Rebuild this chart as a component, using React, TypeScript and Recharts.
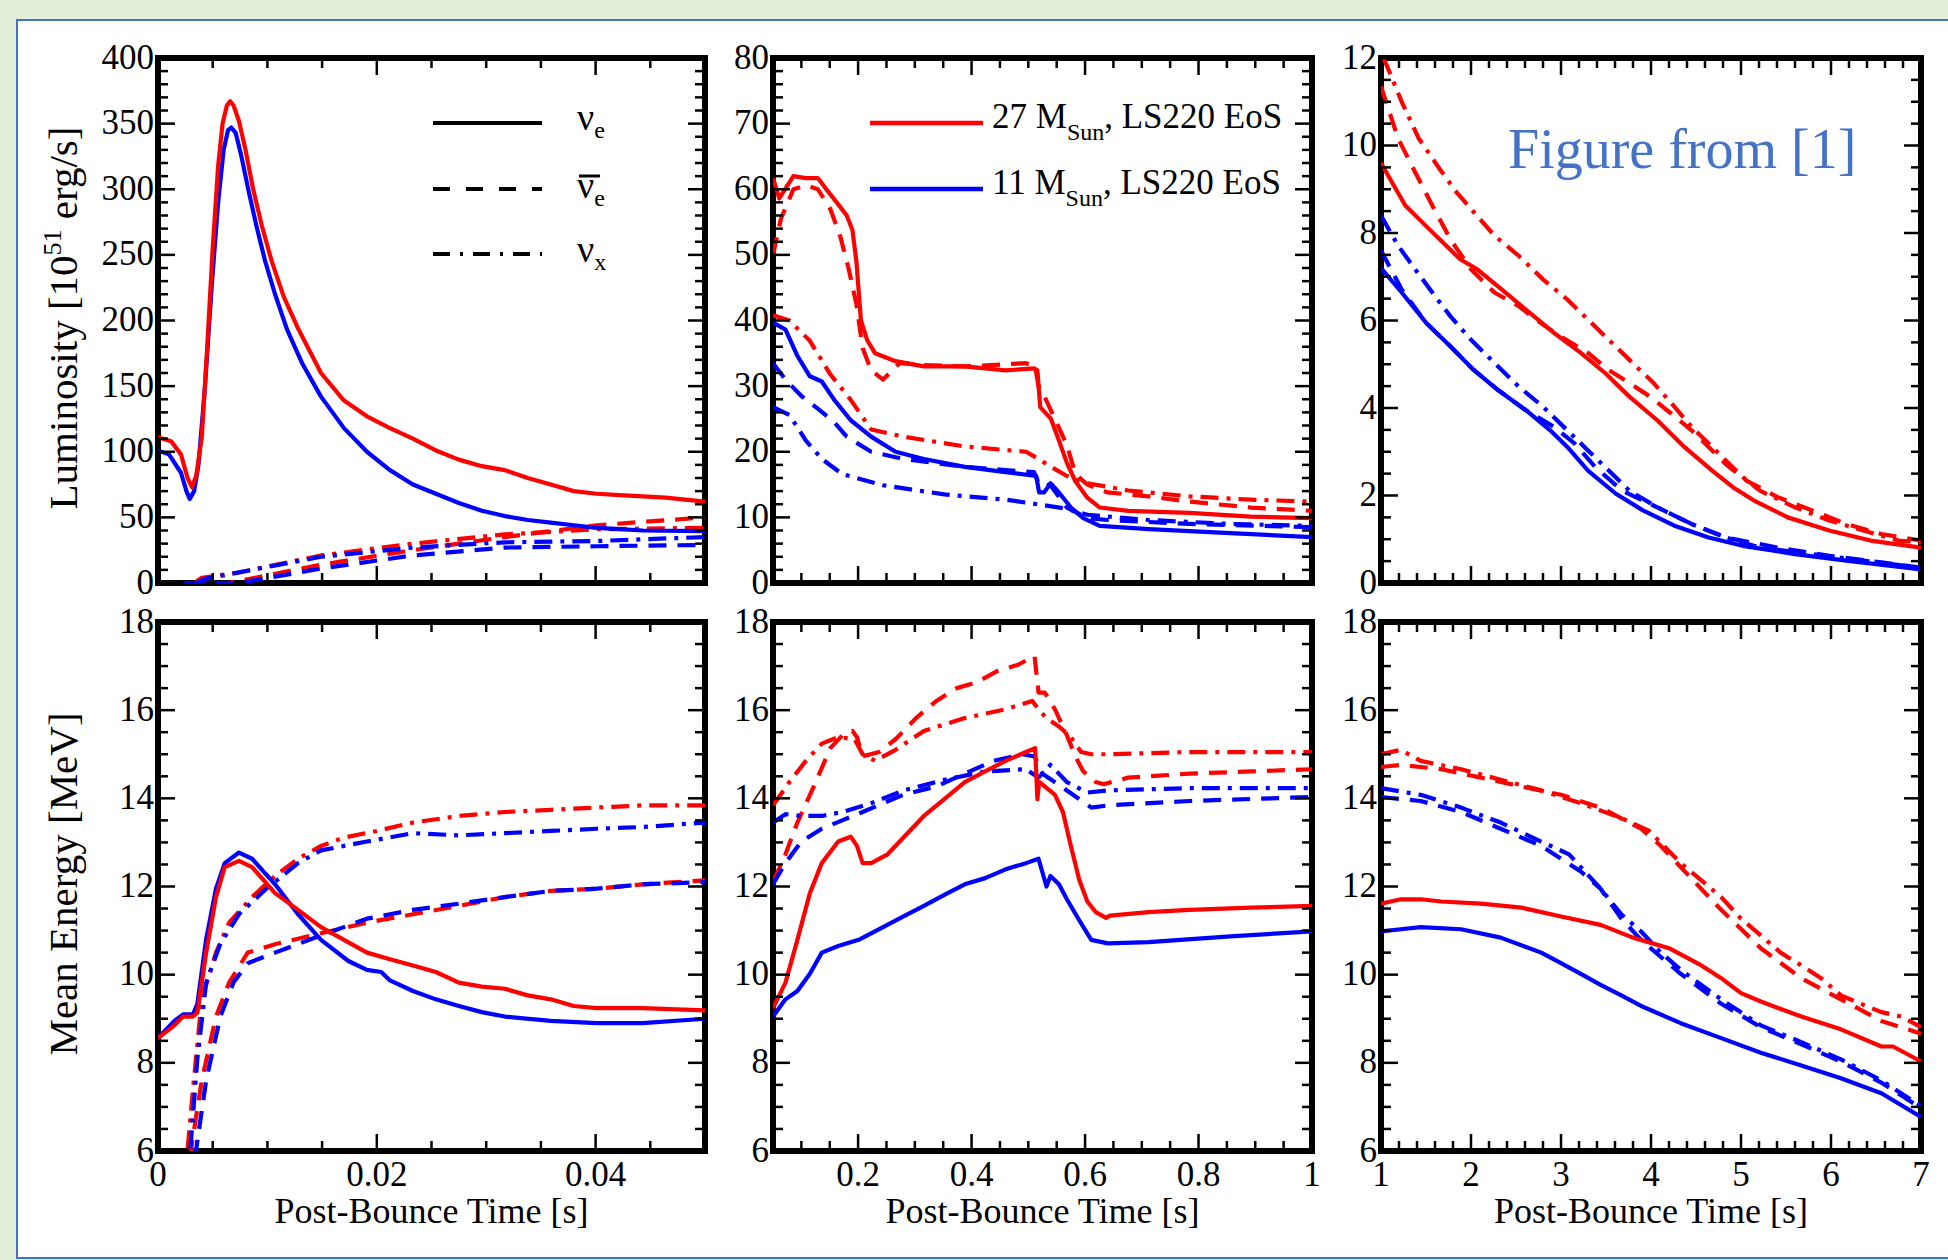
import React from "react";
import { LineChart, Line, XAxis, YAxis, ReferenceArea } from "recharts";

type Pt = [number, number];

// ---------- top left: luminosity, 0 - 0.05 s ----------
const tlRedSolid: Pt[] = [[0, 111], [0.0012, 108], [0.0021, 98], [0.0027, 80], [0.0031, 73], [0.0035, 82], [0.004, 111], [0.0045, 180], [0.005, 255], [0.0055, 318], [0.0059, 350], [0.0063, 364], [0.0066, 367], [0.0069, 364], [0.0074, 352], [0.008, 330], [0.0087, 300], [0.0095, 272], [0.0104, 245], [0.0115, 218], [0.0128, 194], [0.0149, 160], [0.017, 139], [0.0191, 127], [0.0212, 118], [0.0233, 110], [0.0254, 101], [0.0275, 94], [0.0296, 89], [0.0317, 86], [0.0338, 80], [0.0359, 75], [0.038, 70], [0.0401, 68], [0.0422, 67], [0.0443, 66], [0.0464, 65], [0.05, 62]];
const tlRedDash: Pt[] = [[0, 0], [0.0065, 0], [0.0149, 14], [0.0233, 25], [0.0317, 35], [0.0401, 44], [0.05, 50]];
const tlRedDashDot: Pt[] = [[0, 0], [0.0033, 0], [0.004, 4], [0.0074, 8], [0.0149, 21], [0.0233, 30], [0.0317, 37], [0.0401, 41], [0.05, 42]];
const tlBlueSolid: Pt[] = [[0, 101], [0.001, 98], [0.0021, 84], [0.0026, 70], [0.0029, 64], [0.0033, 70], [0.0037, 90], [0.0043, 150], [0.0049, 225], [0.0055, 290], [0.006, 330], [0.0064, 345], [0.0067, 347], [0.0071, 343], [0.0076, 326], [0.0083, 298], [0.009, 272], [0.0098, 245], [0.0107, 220], [0.0118, 193], [0.0132, 167], [0.0149, 142], [0.017, 118], [0.0191, 100], [0.0212, 86], [0.0233, 75], [0.0254, 68], [0.0275, 61], [0.0296, 55], [0.0317, 51], [0.0338, 48], [0.0359, 46], [0.038, 44], [0.0401, 42], [0.0422, 41], [0.0443, 40], [0.05, 39.5]];
const tlBlueDash: Pt[] = [[0, 0], [0.0074, 0], [0.0149, 11], [0.0233, 21], [0.0317, 27], [0.0401, 28], [0.05, 29]];
const tlBlueDashDot: Pt[] = [[0, 0], [0.0035, 0], [0.0042, 3], [0.0149, 20], [0.0233, 27], [0.0317, 31], [0.0401, 32], [0.05, 35]];

// ---------- top middle: luminosity, 0.05 - 1 s ----------
const tmRedSolid: Pt[] = [[0.05, 61.7], [0.061, 58.6], [0.086, 62], [0.108, 61.7], [0.129, 61.7], [0.144, 60], [0.165, 57.7], [0.18, 56], [0.19, 53.8], [0.197, 49], [0.205, 40], [0.216, 37], [0.23, 35], [0.266, 33.8], [0.316, 33], [0.388, 33], [0.46, 32.4], [0.51, 32.7], [0.516, 32.4], [0.521, 26.8], [0.54, 25], [0.554, 21.7], [0.568, 18.3], [0.583, 15.5], [0.604, 13], [0.626, 11.5], [0.676, 11], [0.784, 10.7], [0.892, 10.1], [1, 9.9]];
const tmRedDash: Pt[] = [[0.05, 50], [0.064, 55.5], [0.086, 60], [0.108, 60.6], [0.129, 60], [0.151, 57], [0.169, 52.7], [0.183, 48], [0.197, 42.5], [0.208, 35.8], [0.223, 32.4], [0.244, 31], [0.273, 33.5], [0.316, 33.2], [0.388, 33], [0.496, 33.5], [0.512, 33], [0.518, 30], [0.528, 28.5], [0.547, 25], [0.568, 21], [0.583, 16.6], [0.604, 15], [0.64, 13.8], [0.712, 13.2], [0.784, 12.4], [0.892, 11.5], [1, 11]];
const tmRedDashDot: Pt[] = [[0.05, 40.8], [0.079, 40], [0.115, 36.9], [0.151, 31.8], [0.187, 27.9], [0.223, 23.4], [0.28, 22.3], [0.388, 20.8], [0.496, 20], [0.518, 18.9], [0.54, 17.7], [0.568, 16.3], [0.604, 15.2], [0.676, 14.1], [0.784, 13.2], [0.892, 12.7], [1, 12.4]];
const tmBlueSolid: Pt[] = [[0.05, 39.7], [0.072, 38.6], [0.093, 34.6], [0.115, 31.5], [0.136, 30.7], [0.158, 27.9], [0.187, 24.8], [0.223, 22.3], [0.266, 20], [0.316, 18.9], [0.388, 17.7], [0.46, 16.9], [0.514, 16.3], [0.519, 13.8], [0.528, 13.8], [0.539, 15.2], [0.554, 13.8], [0.575, 11.5], [0.597, 9.9], [0.626, 8.7], [0.712, 8.2], [0.856, 7.6], [1, 7]];
const tmBlueDash: Pt[] = [[0.05, 33.5], [0.072, 31], [0.1, 28.5], [0.13, 26.5], [0.158, 24.5], [0.18, 22.3], [0.223, 20], [0.28, 18.9], [0.388, 17.7], [0.46, 17.2], [0.51, 16.9], [0.52, 14.9], [0.539, 14.9], [0.568, 11.5], [0.604, 9.9], [0.64, 9.6], [0.784, 9], [1, 8.5]];
const tmBlueDashDot: Pt[] = [[0.05, 26.8], [0.079, 25.6], [0.108, 21.7], [0.136, 18.9], [0.172, 16.6], [0.244, 14.9], [0.352, 13.5], [0.46, 12.7], [0.532, 11.8], [0.568, 11.3], [0.604, 10.4], [0.712, 9.6], [0.856, 9], [1, 8.7]];

// ---------- top right: luminosity, 1 - 7 s ----------
const trRedSolid: Pt[] = [[1, 9.6], [1.27, 8.63], [1.57, 8.02], [1.88, 7.4], [2.07, 7.17], [2.34, 6.71], [2.61, 6.25], [2.92, 5.72], [3.22, 5.26], [3.49, 4.8], [3.76, 4.26], [4.07, 3.72], [4.37, 3.11], [4.68, 2.57], [4.91, 2.19], [5.14, 1.89], [5.52, 1.5], [5.98, 1.2], [6.44, 0.97], [7, 0.81]];
const trRedDash: Pt[] = [[1, 11.35], [1.19, 10.16], [1.38, 9.39], [1.57, 8.63], [1.77, 7.86], [2.0, 7.17], [2.26, 6.64], [2.53, 6.33], [2.72, 6.02], [2.99, 5.64], [3.3, 5.26], [3.53, 4.87], [3.76, 4.57], [3.99, 4.26], [4.22, 3.88], [4.45, 3.49], [4.64, 3.11], [4.83, 2.72], [5.06, 2.34], [5.41, 1.96], [5.79, 1.66], [6.17, 1.35], [6.56, 1.12], [7, 0.97]];
const trRedDashDot: Pt[] = [[1.02, 12], [1.06, 11.85], [1.23, 11], [1.42, 10.16], [1.65, 9.47], [1.84, 8.93], [2.03, 8.48], [2.26, 7.94], [2.53, 7.48], [2.8, 6.94], [3.07, 6.48], [3.3, 6.02], [3.53, 5.56], [3.76, 5.1], [4.03, 4.57], [4.26, 4.03], [4.45, 3.57], [4.64, 3.19], [4.83, 2.8], [5.02, 2.42], [5.21, 2.11], [5.6, 1.73], [5.98, 1.43], [6.36, 1.2], [6.75, 0.97], [7, 0.93]];
const trBlueSolid: Pt[] = [[1, 7.2], [1.23, 6.64], [1.5, 5.95], [1.77, 5.41], [2.03, 4.87], [2.3, 4.41], [2.61, 3.95], [2.88, 3.49], [3.07, 3.11], [3.3, 2.57], [3.61, 2.04], [3.91, 1.66], [4.26, 1.31], [4.64, 1.04], [5.02, 0.85], [5.6, 0.66], [6.17, 0.51], [7, 0.31]];
const trBlueDash: Pt[] = [[1, 7.6], [1.23, 6.71], [1.5, 5.95], [1.77, 5.41], [2.03, 4.87], [2.3, 4.41], [2.61, 3.95], [2.92, 3.57], [3.15, 3.19], [3.38, 2.65], [3.68, 2.11], [4.07, 1.73], [4.45, 1.35], [4.83, 1.04], [5.41, 0.81], [5.98, 0.62], [6.56, 0.47], [7, 0.35]];
const trBlueDashDot: Pt[] = [[1, 8.4], [1.19, 7.71], [1.38, 7.17], [1.57, 6.64], [1.77, 6.1], [2.0, 5.56], [2.26, 5.03], [2.53, 4.49], [2.8, 4.03], [3.07, 3.49], [3.3, 3.03], [3.53, 2.57], [3.76, 2.11], [4.07, 1.73], [4.45, 1.35], [4.83, 1.04], [5.21, 0.81], [5.79, 0.66], [6.36, 0.51], [7, 0.35]];

// ---------- bottom left: mean energy, 0 - 0.05 s ----------
const blRedSolid: Pt[] = [[0, 8.56], [0.0015, 8.85], [0.0023, 9.05], [0.0032, 9.05], [0.0036, 9.14], [0.0044, 10.5], [0.0053, 11.76], [0.0061, 12.44], [0.0074, 12.58], [0.0086, 12.44], [0.0107, 11.85], [0.0128, 11.47], [0.0149, 11.08], [0.017, 10.79], [0.0191, 10.5], [0.0212, 10.35], [0.0233, 10.21], [0.0254, 10.06], [0.0275, 9.82], [0.0296, 9.73], [0.0317, 9.68], [0.0338, 9.53], [0.0359, 9.44], [0.038, 9.29], [0.0401, 9.24], [0.0443, 9.24], [0.05, 9.19]];
const blRedDash: Pt[] = [[0.0025, 5.2], [0.004, 7.6], [0.0053, 9.05], [0.0065, 9.82], [0.0082, 10.5], [0.0107, 10.69], [0.0149, 10.94], [0.0191, 11.18], [0.0233, 11.37], [0.0275, 11.56], [0.0317, 11.76], [0.0359, 11.9], [0.0401, 11.95], [0.0443, 12.05], [0.05, 12.14]];
const blRedDashDot: Pt[] = [[0.0024, 5.2], [0.0032, 7.4], [0.004, 9.44], [0.0053, 10.5], [0.0065, 11.18], [0.0086, 11.76], [0.0107, 12.24], [0.0128, 12.63], [0.0149, 12.92], [0.017, 13.11], [0.02, 13.26], [0.0233, 13.45], [0.0275, 13.6], [0.0317, 13.69], [0.0359, 13.74], [0.0401, 13.79], [0.0443, 13.84], [0.05, 13.84]];
const blBlueSolid: Pt[] = [[0, 8.56], [0.0015, 8.95], [0.0023, 9.1], [0.0032, 9.1], [0.0036, 9.34], [0.0044, 10.8], [0.0053, 11.95], [0.0061, 12.53], [0.0074, 12.77], [0.0086, 12.63], [0.0107, 12.05], [0.0128, 11.37], [0.0149, 10.79], [0.0174, 10.31], [0.0191, 10.11], [0.0204, 10.06], [0.0212, 9.87], [0.0233, 9.63], [0.0254, 9.44], [0.0275, 9.29], [0.0296, 9.15], [0.0317, 9.05], [0.0359, 8.95], [0.0401, 8.9], [0.0443, 8.9], [0.05, 9.0]];
const blBlueDash: Pt[] = [[0.003, 5.2], [0.0044, 7.6], [0.0057, 9.05], [0.0069, 9.82], [0.0082, 10.26], [0.0107, 10.5], [0.0149, 10.89], [0.0191, 11.27], [0.0233, 11.47], [0.0275, 11.61], [0.0317, 11.76], [0.0359, 11.9], [0.0401, 11.95], [0.0443, 12.05], [0.05, 12.1]];
const blBlueDashDot: Pt[] = [[0.0027, 5.2], [0.0036, 8.1], [0.0044, 9.82], [0.0057, 10.7], [0.0074, 11.37], [0.0099, 11.95], [0.0128, 12.53], [0.0149, 12.82], [0.0191, 13.02], [0.0233, 13.21], [0.0275, 13.16], [0.0317, 13.21], [0.0359, 13.26], [0.0401, 13.31], [0.0443, 13.35], [0.05, 13.45]];

// ---------- bottom middle: mean energy, 0.05 - 1 s ----------
const bmRedSolid: Pt[] = [[0.05, 9.24], [0.072, 9.82], [0.093, 10.79], [0.115, 11.85], [0.136, 12.53], [0.165, 13.02], [0.187, 13.13], [0.198, 12.92], [0.208, 12.53], [0.223, 12.53], [0.252, 12.73], [0.28, 13.11], [0.316, 13.6], [0.352, 13.98], [0.388, 14.37], [0.424, 14.61], [0.46, 14.85], [0.496, 15.05], [0.512, 15.14], [0.516, 13.98], [0.519, 14.37], [0.529, 14.27], [0.547, 14.08], [0.561, 13.69], [0.575, 12.92], [0.59, 12.14], [0.604, 11.66], [0.619, 11.42], [0.637, 11.29], [0.644, 11.34], [0.712, 11.42], [0.784, 11.47], [0.892, 11.52], [1, 11.56]];
const bmRedDash: Pt[] = [[0.05, 12.1], [0.072, 12.73], [0.093, 13.45], [0.122, 14.27], [0.151, 15.14], [0.176, 15.48], [0.19, 15.53], [0.198, 15.39], [0.208, 14.95], [0.237, 15.05], [0.266, 15.34], [0.302, 15.82], [0.338, 16.21], [0.374, 16.5], [0.41, 16.64], [0.446, 16.89], [0.482, 17.03], [0.511, 17.23], [0.518, 16.4], [0.529, 16.4], [0.547, 16.02], [0.568, 15.43], [0.583, 14.95], [0.597, 14.61], [0.619, 14.37], [0.633, 14.32], [0.676, 14.47], [0.784, 14.56], [0.892, 14.61], [1, 14.66]];
const bmRedDashDot: Pt[] = [[0.05, 13.84], [0.079, 14.37], [0.108, 14.85], [0.136, 15.24], [0.165, 15.39], [0.194, 15.34], [0.208, 15.0], [0.23, 14.85], [0.266, 15.1], [0.316, 15.53], [0.388, 15.82], [0.46, 16.02], [0.507, 16.21], [0.518, 16.02], [0.532, 15.82], [0.554, 15.63], [0.575, 15.39], [0.593, 15.05], [0.611, 15.0], [0.64, 15.0], [0.784, 15.05], [1, 15.05]];
const bmBlueSolid: Pt[] = [[0.05, 9.05], [0.072, 9.44], [0.093, 9.63], [0.115, 10.02], [0.136, 10.5], [0.165, 10.65], [0.201, 10.79], [0.244, 11.08], [0.28, 11.32], [0.316, 11.56], [0.352, 11.81], [0.388, 12.05], [0.424, 12.19], [0.46, 12.39], [0.496, 12.53], [0.518, 12.63], [0.532, 12.0], [0.539, 12.24], [0.554, 12.05], [0.568, 11.71], [0.59, 11.23], [0.611, 10.79], [0.64, 10.71], [0.712, 10.74], [0.856, 10.87], [1, 10.98]];
const bmBlueDash: Pt[] = [[0.05, 12.05], [0.072, 12.53], [0.1, 13.02], [0.136, 13.31], [0.172, 13.5], [0.208, 13.69], [0.244, 13.89], [0.28, 14.08], [0.338, 14.27], [0.388, 14.56], [0.439, 14.85], [0.489, 15.0], [0.511, 14.95], [0.525, 14.56], [0.568, 14.18], [0.611, 13.79], [0.64, 13.84], [0.784, 13.94], [1, 14.03]];
const bmBlueDashDot: Pt[] = [[0.05, 13.45], [0.072, 13.64], [0.1, 13.6], [0.136, 13.6], [0.172, 13.69], [0.223, 13.89], [0.28, 14.18], [0.352, 14.42], [0.424, 14.61], [0.496, 14.66], [0.518, 14.47], [0.539, 14.76], [0.568, 14.37], [0.604, 14.13], [0.64, 14.18], [0.784, 14.23], [1, 14.23]];

// ---------- bottom right: mean energy, 1 - 7 s ----------
const brRedSolid: Pt[] = [[1, 11.61], [1.22, 11.71], [1.44, 11.71], [1.67, 11.66], [2.11, 11.61], [2.56, 11.52], [3.0, 11.32], [3.44, 11.13], [3.8, 10.84], [4.2, 10.6], [4.56, 10.21], [4.78, 9.92], [5.0, 9.58], [5.22, 9.39], [5.67, 9.05], [6.11, 8.76], [6.56, 8.37], [6.69, 8.37], [7, 8.03]];
const brRedDash: Pt[] = [[1, 14.71], [1.22, 14.76], [1.67, 14.66], [2.11, 14.47], [2.56, 14.27], [3.0, 14.08], [3.44, 13.79], [3.89, 13.31], [4.11, 12.92], [4.33, 12.44], [4.78, 11.47], [5.22, 10.6], [5.67, 9.92], [6.11, 9.44], [6.56, 8.95], [7, 8.66]];
const brRedDashDot: Pt[] = [[1, 15.0], [1.22, 15.1], [1.44, 14.85], [1.89, 14.66], [2.33, 14.42], [2.78, 14.18], [3.22, 13.89], [3.67, 13.55], [3.98, 13.26], [4.33, 12.53], [4.56, 12.14], [4.78, 11.76], [5.0, 11.27], [5.22, 10.89], [5.44, 10.5], [5.67, 10.21], [5.89, 9.92], [6.11, 9.53], [6.33, 9.34], [6.56, 9.15], [6.78, 9.05], [7, 8.81]];
const brBlueSolid: Pt[] = [[1, 10.98], [1.22, 11.03], [1.44, 11.08], [1.89, 11.03], [2.33, 10.84], [2.78, 10.5], [3.0, 10.26], [3.22, 10.02], [3.44, 9.77], [3.67, 9.53], [3.89, 9.29], [4.33, 8.9], [4.78, 8.56], [5.22, 8.23], [5.67, 7.94], [6.11, 7.65], [6.56, 7.31], [7, 6.77]];
const brBlueDash: Pt[] = [[1, 14.03], [1.44, 13.94], [1.89, 13.69], [2.33, 13.31], [2.78, 12.92], [3.22, 12.34], [3.44, 11.95], [3.67, 11.27], [3.89, 10.79], [4.11, 10.4], [4.33, 10.02], [4.78, 9.34], [5.22, 8.81], [5.67, 8.42], [6.11, 8.03], [6.56, 7.55], [7, 6.97]];
const brBlueDashDot: Pt[] = [[1, 14.23], [1.44, 14.08], [1.89, 13.79], [2.33, 13.45], [2.78, 13.02], [3.09, 12.73], [3.44, 11.95], [3.67, 11.37], [3.89, 10.98], [4.11, 10.5], [4.33, 10.11], [4.78, 9.44], [5.22, 8.85], [5.67, 8.47], [6.11, 8.08], [6.56, 7.6], [7, 7.02]];

const RED = "#ff0000";
const BLUE = "#0000ff";
const FONT = '"Liberation Serif", "Times New Roman", serif';
const DASH = "18 11";
const DASHDOT = "18 8 4 8";

// chart margins around each plot box (axes take 1px each, Recharts skips 0-size axes)
const ML = 80, MR = 20, MT = 20, MB = 50;

type Series = { data: Pt[]; color: string; dash?: string };

function makeTicks(from: number, to: number, step: number) {
  const out: number[] = [];
  const n = Math.round((to - from) / step);
  for (let i = 0; i <= n; i++) out.push(+(from + i * step).toFixed(6));
  return out;
}

const isMultiple = (v: number, step: number) => Math.abs(v / step - Math.round(v / step)) < 1e-6;

type PanelProps = {
  left: number; top: number; width: number; height: number;
  xDomain: [number, number]; yDomain: [number, number];
  xMajor: number; xMinor: number; yMajor: number; yMinor: number;
  xLabels: boolean;
  series: Series[];
};

function Panel(p: PanelProps) {
  const xTicks = makeTicks(p.xDomain[0], p.xDomain[1], p.xMinor);
  const yTicks = makeTicks(p.yDomain[0], p.yDomain[1], p.yMinor);

  // bottom tick also draws the mirrored tick on the top edge
  const BottomTick = (props: any) => {
    const { x, y, payload } = props;
    const major = isMultiple(payload.value, p.xMajor);
    const len = major ? 17 : 10;
    const topY = y - p.height;
    return (
      <g>
        <line x1={x} x2={x} y1={y} y2={y - len} stroke="#000" strokeWidth={2.5} />
        <line x1={x} x2={x} y1={topY} y2={topY + len} stroke="#000" strokeWidth={2.5} />
        {major && p.xLabels && (
          <text x={x} y={y + 35} textAnchor="middle" fontFamily={FONT} fontSize={35} fill="#000">
            {String(payload.value)}
          </text>
        )}
      </g>
    );
  };

  // left tick also draws the mirrored tick on the right edge
  const LeftTick = (props: any) => {
    const { x, y, payload } = props;
    const major = isMultiple(payload.value, p.yMajor);
    const len = major ? 17 : 10;
    const rightX = x + p.width;
    return (
      <g>
        <line x1={x} x2={x + len} y1={y} y2={y} stroke="#000" strokeWidth={2.5} />
        <line x1={rightX} x2={rightX - len} y1={y} y2={y} stroke="#000" strokeWidth={2.5} />
        {major && (
          <text x={x - 4} y={y} dy="0.3em" textAnchor="end" fontFamily={FONT} fontSize={35} fill="#000">
            {String(payload.value)}
          </text>
        )}
      </g>
    );
  };

  return (
    <div style={{ position: "absolute", left: p.left - ML - 1, top: p.top - MT }}>
      <LineChart
        width={p.width + ML + MR + 1}
        height={p.height + MT + MB + 1}
        margin={{ top: MT, right: MR, bottom: MB, left: ML }}
      >
        <XAxis
          dataKey="t"
          type="number"
          domain={p.xDomain}
          ticks={xTicks}
          interval={0}
          height={1}
          tickSize={0}
          tickMargin={0}
          axisLine={false}
          tickLine={false}
          allowDataOverflow
          tick={BottomTick}
        />
        <YAxis
          type="number"
          domain={p.yDomain}
          ticks={yTicks}
          interval={0}
          width={1}
          tickSize={0}
          tickMargin={0}
          axisLine={false}
          tickLine={false}
          allowDataOverflow
          tick={LeftTick}
        />
        {p.series.map((s, i) => (
          <Line
            key={i}
            data={s.data.map(([t, v]) => ({ t, v }))}
            dataKey="v"
            type="linear"
            stroke={s.color}
            strokeWidth={4.2}
            strokeDasharray={s.dash}
            strokeLinejoin="round"
            dot={false}
            activeDot={false}
            isAnimationActive={false}
          />
        ))}
        <ReferenceArea
          x1={p.xDomain[0]}
          x2={p.xDomain[1]}
          y1={p.yDomain[0]}
          y2={p.yDomain[1]}
          fill="none"
          stroke="#000"
          strokeWidth={6}
          ifOverflow="visible"
        />
      </LineChart>
    </div>
  );
}

const six = (rs: Pt[], rd: Pt[], rdd: Pt[], bs: Pt[], bd: Pt[], bdd: Pt[]): Series[] => [
  { data: rdd, color: RED, dash: DASHDOT },
  { data: rd, color: RED, dash: DASH },
  { data: bdd, color: BLUE, dash: DASHDOT },
  { data: bd, color: BLUE, dash: DASH },
  { data: bs, color: BLUE },
  { data: rs, color: RED },
];

export default function App() {
  const topY = 58, topH = 525, botY = 622, botH = 529;
  const cols = [
    { left: 158, width: 547 },
    { left: 773, width: 539 },
    { left: 1381, width: 540 },
  ];
  const textStyle = { fontFamily: FONT, fill: "#000" };

  return (
    <div style={{ position: "absolute", left: 0, top: 0, width: 1948, height: 1260, background: "#e2efda", overflow: "hidden" }}>
      <div style={{ position: "absolute", left: 16, top: 19, width: 1960, height: 1240, background: "#fff", border: "2px solid #4472c4", boxSizing: "border-box" }} />

      <Panel left={cols[0].left} top={topY} width={cols[0].width} height={topH}
        xDomain={[0, 0.05]} yDomain={[0, 400]} xMajor={0.02} xMinor={0.005} yMajor={50} yMinor={10} xLabels={false}
        series={six(tlRedSolid, tlRedDash, tlRedDashDot, tlBlueSolid, tlBlueDash, tlBlueDashDot)} />
      <Panel left={cols[1].left} top={topY} width={cols[1].width} height={topH}
        xDomain={[0.05, 1]} yDomain={[0, 80]} xMajor={0.2} xMinor={0.05} yMajor={10} yMinor={2} xLabels={false}
        series={six(tmRedSolid, tmRedDash, tmRedDashDot, tmBlueSolid, tmBlueDash, tmBlueDashDot)} />
      <Panel left={cols[2].left} top={topY} width={cols[2].width} height={topH}
        xDomain={[1, 7]} yDomain={[0, 12]} xMajor={1} xMinor={0.2} yMajor={2} yMinor={0.5} xLabels={false}
        series={six(trRedSolid, trRedDash, trRedDashDot, trBlueSolid, trBlueDash, trBlueDashDot)} />

      <Panel left={cols[0].left} top={botY} width={cols[0].width} height={botH}
        xDomain={[0, 0.05]} yDomain={[6, 18]} xMajor={0.02} xMinor={0.005} yMajor={2} yMinor={0.5} xLabels={true}
        series={six(blRedSolid, blRedDash, blRedDashDot, blBlueSolid, blBlueDash, blBlueDashDot)} />
      <Panel left={cols[1].left} top={botY} width={cols[1].width} height={botH}
        xDomain={[0.05, 1]} yDomain={[6, 18]} xMajor={0.2} xMinor={0.05} yMajor={2} yMinor={0.5} xLabels={true}
        series={six(bmRedSolid, bmRedDash, bmRedDashDot, bmBlueSolid, bmBlueDash, bmBlueDashDot)} />
      <Panel left={cols[2].left} top={botY} width={cols[2].width} height={botH}
        xDomain={[1, 7]} yDomain={[6, 18]} xMajor={1} xMinor={0.2} yMajor={2} yMinor={0.5} xLabels={true}
        series={six(brRedSolid, brRedDash, brRedDashDot, brBlueSolid, brBlueDash, brBlueDashDot)} />

      <svg width={1948} height={1260} style={{ position: "absolute", left: 0, top: 0, pointerEvents: "none" }}>
        {/* axis titles */}
        <text transform="translate(77, 318) rotate(-90)" textAnchor="middle" fontSize={41} {...textStyle}>
          Luminosity [10<tspan fontSize={26} dy={-16}>51</tspan><tspan dy={16}> erg/s]</tspan>
        </text>
        <text transform="translate(77, 884) rotate(-90)" textAnchor="middle" fontSize={41} {...textStyle}>
          Mean Energy [MeV]
        </text>
        {cols.map((c, i) => (
          <text key={i} x={c.left + c.width / 2} y={1223} textAnchor="middle" fontSize={36} {...textStyle}>
            Post-Bounce Time [s]
          </text>
        ))}

        {/* flavour legend */}
        <line x1={433} x2={542} y1={123} y2={123} stroke="#000" strokeWidth={4} />
        <line x1={433} x2={542} y1={189} y2={189} stroke="#000" strokeWidth={4} strokeDasharray="17 16" />
        <line x1={433} x2={542} y1={254} y2={254} stroke="#000" strokeWidth={4} strokeDasharray="17 10 3 10" />
        <text x={577} y={130} fontSize={38} {...textStyle}>ν<tspan fontSize={24} dy={8}>e</tspan></text>
        <line x1={579} x2={600} y1={176} y2={176} stroke="#000" strokeWidth={3} />
        <text x={577} y={198} fontSize={38} {...textStyle}>ν<tspan fontSize={24} dy={8}>e</tspan></text>
        <text x={577} y={262} fontSize={38} {...textStyle}>ν<tspan fontSize={24} dy={8}>x</tspan></text>

        {/* progenitor legend */}
        <line x1={870} x2={983} y1={123} y2={123} stroke={RED} strokeWidth={4.5} />
        <line x1={870} x2={983} y1={189} y2={189} stroke={BLUE} strokeWidth={4.5} />
        <text x={992} y={128} fontSize={35} {...textStyle}>
          27 M<tspan fontSize={24} dy={12}>Sun</tspan><tspan dy={-12}>, LS220 EoS</tspan>
        </text>
        <text x={992} y={194} fontSize={35} {...textStyle}>
          11 M<tspan fontSize={24} dy={12}>Sun</tspan><tspan dy={-12}>, LS220 EoS</tspan>
        </text>

        <text x={1508} y={168} fontSize={56} fontFamily={FONT} fill="#4472c4">Figure from [1]</text>
      </svg>
    </div>
  );
}
